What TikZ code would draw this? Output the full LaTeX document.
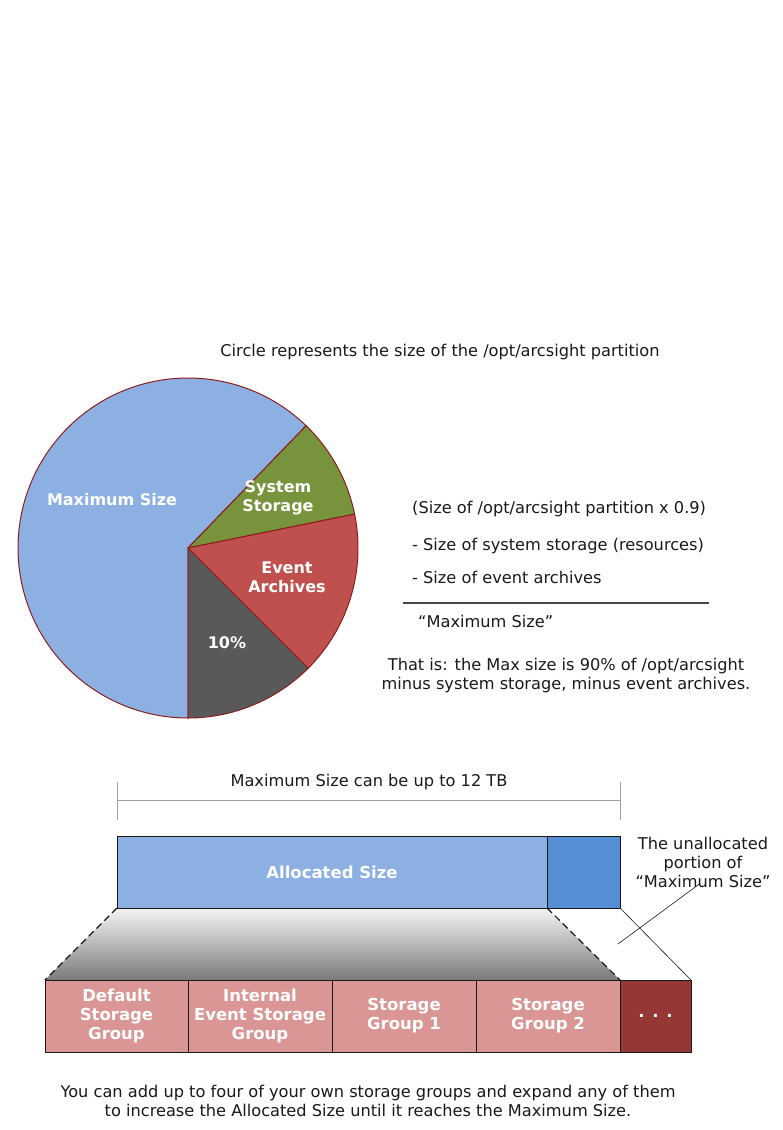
\documentclass[tikz,border=0pt]{standalone}
\usepackage{fontspec}
\setmainfont{DejaVu Sans}
\usetikzlibrary{positioning,calc,backgrounds}
\definecolor{ink}{RGB}{25,25,25}
\definecolor{rim}{RGB}{140,30,30}
\definecolor{maxblue}{RGB}{141,176,227}
\definecolor{freeblue}{RGB}{85,142,213}
\definecolor{sysgreen}{RGB}{119,147,60}
\definecolor{archred}{RGB}{192,80,77}
\definecolor{reserve}{RGB}{89,89,89}
\definecolor{grouppink}{RGB}{217,150,148}
\definecolor{moregroup}{RGB}{149,55,53}
\definecolor{rulegray}{RGB}{160,160,160}

\begin{document}
\begin{tikzpicture}[x=1pt,y=-1pt,
    plain/.style={font=\fontsize{16.2}{19}\selectfont,text=ink,inner sep=0pt,align=center},
    slicelabel/.style={font=\fontsize{16}{19}\selectfont\bfseries,text=white,
      inner sep=0pt,align=center},
    barpart/.style={draw=ink,line width=0.9pt,fill=#1,minimum height=72,
      inner sep=0pt,outer sep=0pt,font=\fontsize{16.5}{19}\selectfont\bfseries,
      text=white,align=center},
    slice/.style={fill=#1,draw=rim,line width=1pt,line join=round},
    fold/.style={draw=ink,line width=1.2pt,dash pattern=on 7pt off 4pt},
    thin/.style={draw=ink,line width=0.6pt},
    ruler/.style={draw=rulegray,line width=1pt},
  ]
  \useasboundingbox (0,0) rectangle (783,1130);

  % pie of the /opt/arcsight partition
  \node[plain] (title) at (440,352)
    {Circle represents the size of the /opt/arcsight partition};
  \begin{scope}[shift={(188,548)},yscale=-1]
    \filldraw[slice=maxblue] (0,0) -- (46:170) arc[start angle=46,end angle=270,radius=170] -- cycle;
    \filldraw[slice=sysgreen] (0,0) -- (11.5:170) arc[start angle=11.5,end angle=46,radius=170] -- cycle;
    \filldraw[slice=archred] (0,0) -- (-45:170) arc[start angle=-45,end angle=11.5,radius=170] -- cycle;
    \filldraw[slice=reserve] (0,0) -- (-90:170) arc[start angle=-90,end angle=-45,radius=170] -- cycle;
  \end{scope}
  \node[slicelabel] (maxlbl) at (112,500) {Maximum Size};
  \node[slicelabel] (syslbl) at (278,498) {System\\Storage};
  \node[slicelabel] (arclbl) at (287,577) {Event\\Archives};
  \node[slicelabel] (reslbl) at (227,643) {10\%};

  % the formula beside it
  \node[plain,anchor=west] (f1) at (412,509) {(Size of /opt/arcsight partition x 0.9)};
  \node[plain,anchor=west] (f2) at (412,546) {- Size of system storage (resources)};
  \node[plain,anchor=west] (f3) at (412,577) {- Size of event archives};
  \coordinate (sumL) at (403,603);
  \coordinate (sumR) at (709,603);
  \draw[draw=ink!80,line width=1.4pt] (sumL) -- (sumR);
  \node[plain,anchor=west] (f4) at (418,621) {“Maximum Size”};
  \node[plain] (thatis) at (566,676)
    {That is: the Max size is 90\% of /opt/arcsight\\minus system storage, minus event archives.};

  % the maximum size bar
  \coordinate (rulerL) at (117,800);
  \coordinate (rulerR) at (620,800);
  \draw[ruler] (rulerL) -- (rulerR);
  \draw[ruler] ([yshift=18pt]rulerL) -- ([yshift=-20pt]rulerL);
  \draw[ruler] ([yshift=18pt]rulerR) -- ([yshift=-20pt]rulerR);
  \node[plain] (rulerlbl) at (369,782) {Maximum Size can be up to 12 TB};

  \node[barpart=maxblue,minimum width=430,anchor=north west] (alloc) at (117,836) {Allocated Size};
  \node[barpart=freeblue,minimum width=73,right=0pt of alloc] (free) {};
  \node[plain] (note) at (703,862) {The unallocated\\portion of\\“Maximum Size”};

  % storage groups
  \node[barpart=grouppink,minimum width=143,anchor=north west] (cell1) at (45,980)
    {Default\\Storage\\Group};
  \foreach \i/\w/\col/\name in {2/144/grouppink/{Internal\\Event Storage\\Group},
                                3/144/grouppink/{Storage\\Group 1},
                                4/144/grouppink/{Storage\\Group 2},
                                5/71/moregroup/{. . .}} {
    \pgfmathtruncatemacro{\prev}{\i-1}
    \node[barpart=\col,minimum width=\w,right=0pt of cell\prev] (cell\i) {\name};
  }

  \begin{scope}[on background layer]
    \shade[top color=black!4,bottom color=black!52]
      (alloc.south west) -- (alloc.south east) -- (cell4.north east) -- (cell1.north west) -- cycle;
  \end{scope}
  \draw[fold] (alloc.south west) -- (cell1.north west);
  \draw[fold] (alloc.south east) -- (cell4.north east);
  \draw[thin] (free.south east) -- (cell5.north east);
  \coordinate (gap) at (618,944);
  \draw[thin] (gap) -- ([yshift=4pt,xshift=-3pt]note.south);

  \node[plain] (howto) at (368,1101)
    {You can add up to four of your own storage groups and expand any of them\\
     to increase the Allocated Size until it reaches the Maximum Size.};
\end{tikzpicture}
\end{document}
